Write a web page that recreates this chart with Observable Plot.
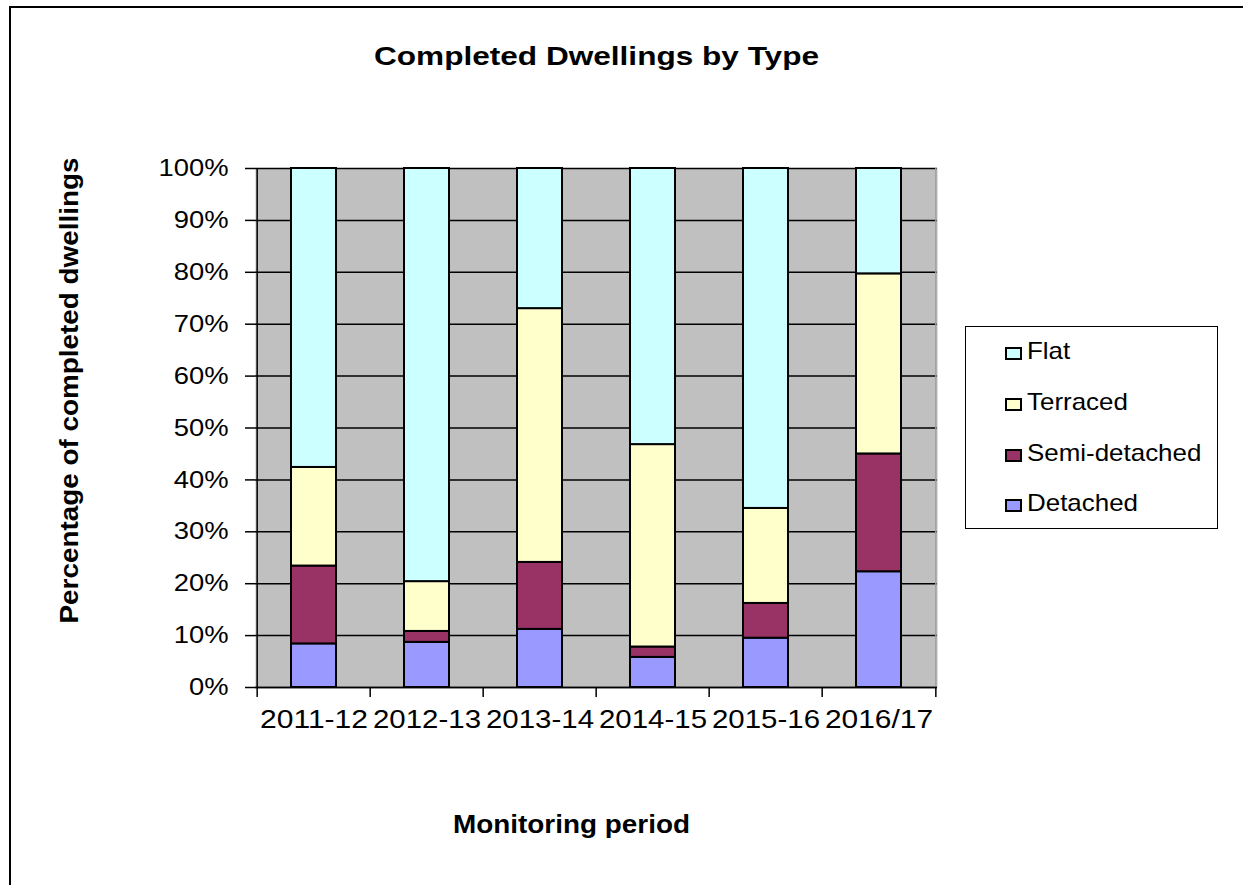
<!DOCTYPE html>
<html>
<head>
<meta charset="utf-8">
<script src="https://cdn.jsdelivr.net/npm/d3@7"></script>
<script src="https://cdn.jsdelivr.net/npm/@observablehq/plot@0.6"></script>
<style>
  html, body { margin: 0; padding: 0; background: #fff; }
  body { width: 1243px; height: 885px; position: relative; overflow: hidden; font-family: "Liberation Sans", Arial, sans-serif; color: #000; }
  #border { position: absolute; left: 9px; top: 6px; width: 1400px; height: 1000px; border-left: 2px solid #000; border-top: 2px solid #000; }
  #cut { position: absolute; left: 13px; top: -26.5px; font-size: 25px; line-height: 25px; font-weight: bold; white-space: pre; transform: scaleX(1.26); transform-origin: 0 0; }
  #chart { position: absolute; left: 0; top: 0; }
  #legend { position: absolute; left: 965px; top: 326px; width: 253px; height: 203px; border: 1.5px solid #000; box-sizing: border-box; background: #fff; }
  .sw { position: absolute; width: 17px; height: 13px; border: 2px solid #000; box-sizing: border-box; }
  .lt { position: absolute; font-size: 24px; line-height: 24px; white-space: pre; transform: scaleX(1.08); transform-origin: 0 0; }
</style>
</head>
<body>
<div id="cut">Graph 2: Completed Dwellings by Type</div>
<div id="border"></div>
<div id="chart"></div>
<div id="legend"></div>
<script>
const periods = ["2011-12", "2012-13", "2013-14", "2014-15", "2015-16", "2016/17"];
const types = ["Detached", "Semi-detached", "Terraced", "Flat"];
const detached     = [8.4, 8.7, 11.2, 5.8, 9.5, 22.3];
const semiDetached = [15.0, 2.1, 12.9, 2.0, 6.7, 22.7];
const terraced     = [19.0, 9.6, 48.9, 39.0, 18.3, 34.7];
const flat         = [57.6, 79.6, 27.0, 53.2, 65.5, 20.3];
const typeColors = ["#9999FF", "#993366", "#FFFFCC", "#CCFFFF"];
const yTicks = [0, 10, 20, 30, 40, 50, 60, 70, 80, 90, 100];
const titleText = "Completed Dwellings by Type";
const yLabelText = "Percentage of completed dwellings";
const xLabelText = "Monitoring period";

const series = [detached, semiDetached, terraced, flat];
const rows = [];
periods.forEach((p, i) => types.forEach((t, k) => rows.push({period: p, type: t, value: series[k][i]})));

const W = 1243, H = 885, mL = 255, mR = 306, mT = 168, mB = 198;
const half = (W - mL - mR) / periods.length / 2;
const font = '"Liberation Sans", Arial, sans-serif';

const chart = Plot.plot({
  width: W, height: H,
  marginLeft: mL, marginRight: mR, marginTop: mT, marginBottom: mB,
  style: {fontFamily: font, fontSize: "24px", background: "transparent", color: "#000", overflow: "visible"},
  x: {domain: periods, paddingInner: 0.6, paddingOuter: 0.3, label: null},
  y: {domain: [0, 100], label: null},
  color: {domain: types, range: typeColors},
  marks: [
    Plot.frame({fill: "#C0C0C0"}),
    Plot.gridY(yTicks, {stroke: "#000", strokeOpacity: 1, strokeWidth: 1.5}),
    Plot.ruleX([periods[periods.length - 1]], {dx: half, stroke: "#A0A0A0", strokeWidth: 1.5}),
    Plot.barY(rows, {x: "period", y: "value", fill: "type", stroke: "#000", strokeWidth: 2}),
    Plot.ruleX([periods[0]], {dx: -half, stroke: "#000", strokeWidth: 1.5}),
    Plot.ruleY([0], {stroke: "#000", strokeWidth: 1.5}),
    Plot.axisY(yTicks, {tickFormat: d => d + "%", tickSize: 10, tickPadding: 17, strokeWidth: 1.5, fontSize: 24, label: null}),
    Plot.axisX({tickSize: 10, tickFormat: () => "", dx: -half, strokeWidth: 1.5, label: null}),
    Plot.axisX([periods[periods.length - 1]], {tickSize: 10, tickFormat: () => "", dx: half, strokeWidth: 1.5, label: null}),
    Plot.axisX({tickSize: 0, tickPadding: 23, fontSize: 25, label: null}),
    Plot.text([titleText], {frameAnchor: "top", textAnchor: "middle", lineAnchor: "middle", dy: -112, fontSize: 25, fontWeight: "bold"}),
    Plot.text([yLabelText], {frameAnchor: "left", textAnchor: "middle", lineAnchor: "middle", rotate: -90, dx: -186, dy: -37.5, fontSize: 25, fontWeight: "bold"}),
    Plot.text([xLabelText], {frameAnchor: "bottom", textAnchor: "middle", lineAnchor: "middle", dx: -25, dy: 137, fontSize: 25, fontWeight: "bold"})
  ]
});
document.getElementById("chart").appendChild(chart);

function fitText(match, target) {
  chart.querySelectorAll("text").forEach(t => {
    const s = t.textContent;
    if (!match(s)) return;
    const L = t.getComputedTextLength();
    if (L > 0) {
      t.setAttribute("textLength", (typeof target === "function" ? target(L) : target).toFixed(1));
      t.setAttribute("lengthAdjust", "spacingAndGlyphs");
    }
  });
}
fitText(s => s === titleText, 445);
fitText(s => s === yLabelText, 466);
fitText(s => s === xLabelText, 237);
fitText(s => /%$/.test(s), L => L * 1.14);
fitText(s => periods.includes(s), 108);

// legend (top entry first, as in the reference)
const legend = document.getElementById("legend");
const order = [3, 2, 1, 0];
const baselines = [360, 411, 462, 512];
order.forEach((k, j) => {
  const sw = document.createElement("div");
  sw.className = "sw";
  sw.style.left = (1005 - 966.5) + "px";
  sw.style.top = (baselines[j] - 13 - 327.5) + "px";
  sw.style.background = typeColors[k];
  legend.appendChild(sw);
  const lt = document.createElement("div");
  lt.className = "lt";
  lt.textContent = types[k];
  lt.style.left = (1027 - 966.5) + "px";
  lt.style.top = (baselines[j] - 20.3 - 327.5) + "px";
  legend.appendChild(lt);
});
</script>
</body>
</html>
